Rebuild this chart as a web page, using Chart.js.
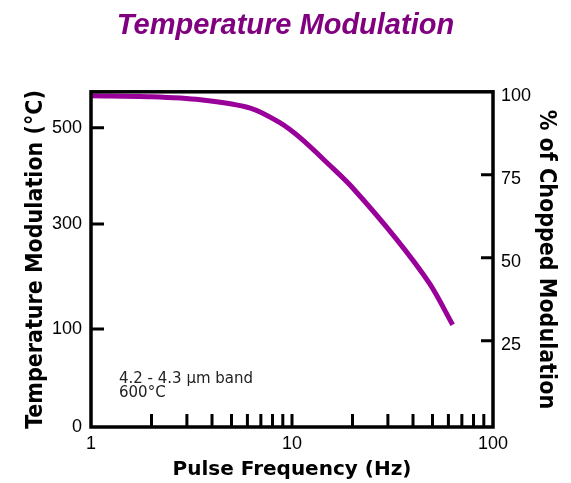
<!DOCTYPE html>
<html>
<head>
<meta charset="utf-8">
<script src="https://cdn.jsdelivr.net/npm/chart.js@4.4.1/dist/chart.umd.min.js"></script>
<style>
  html, body { margin: 0; padding: 0; background: #fff; }
  #wrap { width: 571px; height: 483px; }
</style>
</head>
<body>
<div id="wrap"><canvas id="chart"></canvas></div>
<script>
// valores
const frequencies = [1, 2, 3.5, 6.2, 8.7, 11, 15.5, 20, 33, 48.5, 63];
const chopped = [98.8, 98.5, 97.6, 95.1, 90.7, 86.1, 77.7, 71.1, 55.7, 42.1, 29.8];

const xTickLabels = [1, 10, 100];
const xMinorTicks = [2, 3, 4, 5, 6, 7, 8, 9, 10, 20, 30, 40, 50, 60, 70, 80, 90];
const pctTicks = [25, 50, 75, 100];
// eixo esquerdo: temperatura e a % correspondente
const tempTicks = [0, 100, 300, 500];
const tempTickPct = [-1, 28.5, 60.2, 89.2];

const titleFont = { family: '"DejaVu Sans Condensed", "DejaVu Sans"', size: 23, weight: 'bold' };
const tickFont = { family: '"Liberation Sans"', size: 18 };

// moldura e marcas para dentro
const frameTicks = {
    id: 'frameTicks',
    afterDatasetsDraw(chart) {
        const { ctx, chartArea: a, scales } = chart;
        ctx.save();
        ctx.strokeStyle = '#000';
        ctx.lineWidth = 3;
        ctx.beginPath();
        xMinorTicks.forEach(v => {
            const x = scales.x.getPixelForValue(v);
            ctx.moveTo(x, a.bottom);
            ctx.lineTo(x, a.bottom - 13);
        });
        tempTickPct.slice(1).forEach(v => {
            const y = scales.yL.getPixelForValue(v);
            ctx.moveTo(a.left, y);
            ctx.lineTo(a.left + 13, y);
        });
        pctTicks.slice(0, 3).forEach(v => {
            const y = scales.yR.getPixelForValue(v);
            ctx.moveTo(a.right, y);
            ctx.lineTo(a.right - 12, y);
        });
        ctx.stroke();
        ctx.lineWidth = 3.5;
        ctx.strokeRect(a.left, a.top, a.right - a.left, a.bottom - a.top);

        ctx.fillStyle = '#222';
        ctx.font = '15px "DejaVu Sans"';
        ctx.textBaseline = 'alphabetic';
        ctx.fillText('4.2 - 4.3 \u00b5m band', a.left + 28, a.bottom - 44);
        ctx.fillText('600\u00b0C', a.left + 28, a.bottom - 30);
        ctx.restore();
    }
};

new Chart(document.getElementById('chart'), {
    type: 'line',
    data: {
        datasets: [{
            label: '% of Chopped Modulation',
            data: frequencies.map((f, i) => ({ x: f, y: chopped[i] })),
            yAxisID: 'yR',
            borderColor: '#990099',
            borderWidth: 5,
            pointRadius: 0,
            tension: 0.3,
            fill: false
        }]
    },
    options: {
        responsive: true,
        maintainAspectRatio: false,
        animation: false,
        layout: { padding: 0 },
        plugins: {
            legend: { display: false },
            tooltip: { enabled: false },
            title: {
                display: true,
                text: 'Temperature Modulation',
                color: '#800080',
                font: { family: '"Liberation Sans"', size: 29, weight: 'bold', style: 'italic' },
                padding: { top: 9, bottom: 48 }
            }
        },
        scales: {
            x: {
                type: 'logarithmic',
                min: 1,
                max: 100,
                grid: { display: false, drawTicks: false },
                border: { display: false },
                afterBuildTicks: s => { s.ticks = xTickLabels.map(v => ({ value: v })); },
                afterFit: s => { s.height = 56; },
                ticks: {
                    color: '#000',
                    font: tickFont,
                    padding: 6,
                    maxRotation: 0,
                    autoSkip: false,
                    callback: v => String(v)
                },
                title: {
                    display: true,
                    text: 'Pulse Frequency (Hz)',
                    color: '#000',
                    font: { family: '"DejaVu Sans"', size: 20, weight: 'bold' },
                    padding: { top: 0, bottom: 1 }
                }
            },
            yL: {
                position: 'left',
                min: -1,
                max: 100,
                grid: { display: false, drawTicks: false },
                border: { display: false },
                afterBuildTicks: s => { s.ticks = tempTickPct.map(v => ({ value: v })); },
                afterFit: s => { s.width = 91; },
                ticks: {
                    color: '#000',
                    font: tickFont,
                    padding: 9,
                    autoSkip: false,
                    callback: (v, i) => String(tempTicks[i])
                },
                title: {
                    display: true,
                    text: 'Temperature Modulation (\u00b0C)',
                    color: '#000',
                    font: titleFont,
                    padding: { top: 22, bottom: 0 }
                }
            },
            yR: {
                position: 'right',
                min: -1,
                max: 100,
                grid: { display: false, drawTicks: false },
                border: { display: false },
                afterBuildTicks: s => { s.ticks = pctTicks.map(v => ({ value: v })); },
                afterFit: s => { s.width = 78; },
                ticks: {
                    color: '#000',
                    font: tickFont,
                    padding: 8,
                    labelOffset: 4,
                    autoSkip: false
                },
                title: {
                    display: true,
                    text: '% of Chopped Modulation',
                    color: '#000',
                    font: titleFont,
                    padding: { top: 11, bottom: 0 }
                }
            }
        }
    },
    plugins: [frameTicks]
});
</script>
</body>
</html>
